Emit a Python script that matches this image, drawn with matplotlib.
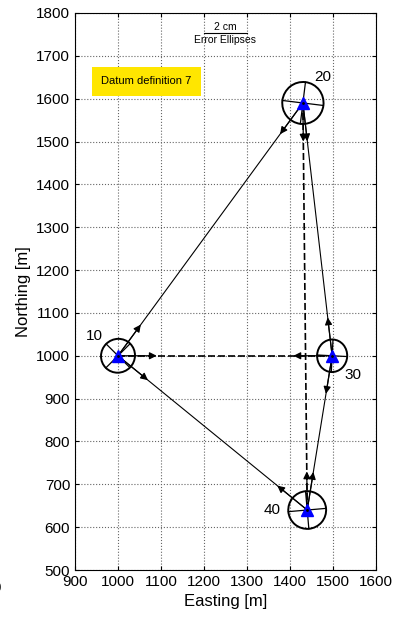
import matplotlib
matplotlib.use('Agg')
import matplotlib.pyplot as plt
import numpy as np
from matplotlib.patches import Ellipse

plt.rcParams['font.family'] = ['Liberation Sans', 'DejaVu Sans']

# stations
names = ['10', '20', '30', '40']
east = [1000, 1430, 1498, 1440]
north = [1000, 1590, 1000, 640]

# error ellipses [cm]: semi-axis a, semi-axis b, angle of a [deg]
ell_a = [0.80, 0.96, 0.70, 0.88]
ell_b = [0.78, 0.98, 0.76, 0.88]
ell_ang = [45, -7, -3, 5]
ell_scale = 50.0   # m per cm

# observations
dist_obs = [('10', '20'), ('10', '40'), ('20', '30'), ('30', '40')]   # direction + distance
dir_only = [('10', '30'), ('20', '40')]                                # direction only
directions = [('10', '20'), ('10', '30'), ('10', '40'),
              ('20', '10'), ('20', '30'), ('20', '40'),
              ('30', '10'), ('30', '20'), ('30', '40'),
              ('40', '10'), ('40', '20'), ('40', '30')]

label_off = [(-17, 14), (14, 19), (15, -14), (-25, 0)]
datum_text = 'Datum definition 7'

pos = {n: (e, nn) for n, e, nn in zip(names, east, north)}

fig = plt.figure(figsize=(4.02, 6.22), dpi=100)
ax = fig.add_axes([75/402, 52/622, 301/402, 557/622])

# connection lines
for a, b in dist_obs:
    ax.plot([pos[a][0], pos[b][0]], [pos[a][1], pos[b][1]], '-', color='k', lw=0.8, zorder=3)
for a, b in dir_only:
    ax.plot([pos[a][0], pos[b][0]], [pos[a][1], pos[b][1]], color='k', lw=1.2,
            dashes=(4.2, 1.8), zorder=3)

# direction arrows
arr_len = 90.0
for a, b in directions:
    p0 = np.array(pos[a], float)
    p1 = np.array(pos[b], float)
    u = (p1 - p0) / np.linalg.norm(p1 - p0)
    tip = p0 + arr_len * u
    ax.annotate('', xy=tip, xytext=p0,
                arrowprops=dict(arrowstyle='-|>', color='k', lw=0.9,
                                mutation_scale=10.5, shrinkA=0, shrinkB=0), zorder=4)

# error ellipses with principal axes
for i, n in enumerate(names):
    x0, y0 = pos[n]
    a = ell_a[i] * ell_scale
    b = ell_b[i] * ell_scale
    t = np.deg2rad(ell_ang[i])
    ax.add_patch(Ellipse((x0, y0), 2*a, 2*b, angle=ell_ang[i], fill=False,
                         ec='k', lw=1.4, zorder=5))
    ua = np.array([np.cos(t), np.sin(t)])
    ub = np.array([-np.sin(t), np.cos(t)])
    for v, r in ((ua, a), (ub, b)):
        ax.plot([x0 - r*v[0], x0 + r*v[0]], [y0 - r*v[1], y0 + r*v[1]],
                color='k', lw=0.9, zorder=5)

# stations
ax.plot(east, north, '^', color='blue', mec='blue', ms=8, zorder=6)
ax.plot(east, north, '.', color='k', ms=2, zorder=7)
for i, n in enumerate(names):
    ax.annotate(n, (east[i], north[i]), xytext=label_off[i], textcoords='offset points',
                ha='center', va='center', fontsize=11)

# scale bar for ellipses
sx, sy = 1250, 1753
ax.plot([sx - ell_scale, sx + ell_scale], [sy, sy], color='k', lw=0.8)
ax.text(sx, sy + 3, '2 cm', ha='center', va='bottom', fontsize=7.5)
ax.text(sx, sy - 4, 'Error Ellipses', ha='center', va='top', fontsize=7.5)

# datum box
ax.text(1066, 1641, datum_text, ha='center', va='center', fontsize=8,
        bbox=dict(boxstyle='square,pad=0.85', fc='#ffe600', ec='none'))

ax.set_xlim(900, 1600)
ax.set_ylim(500, 1800)
ax.set_xticks(np.arange(900, 1601, 100))
ax.set_yticks(np.arange(500, 1801, 100))
ax.tick_params(direction='in', top=True, right=True, labelsize=11, length=3)
ax.grid(True, linestyle=':', color='#666666', lw=0.8)
ax.set_axisbelow(True)
ax.set_xlabel('Easting [m]', fontsize=12)
ax.set_ylabel('Northing [m]', fontsize=12)

# clipped tick label at the far left, as in the source figure
ax.text(700, 459, '700', ha='center', va='center', fontsize=11, clip_on=False)

fig.savefig('out.png', dpi=100)
